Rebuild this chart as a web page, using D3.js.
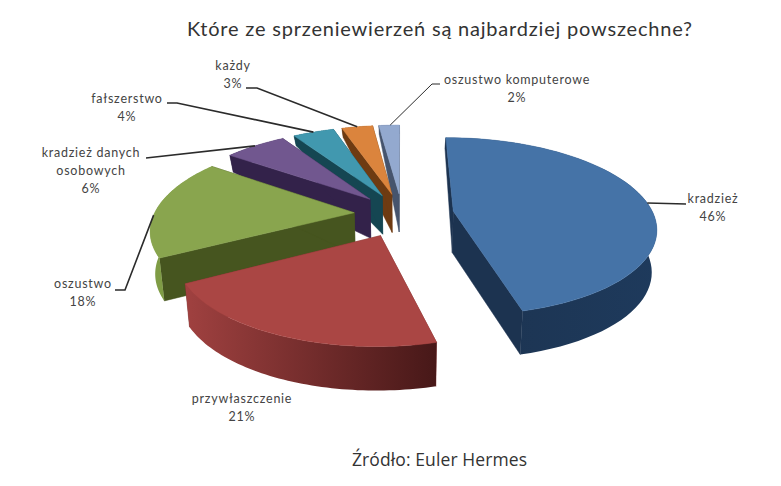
<!DOCTYPE html>
<html><head><meta charset="utf-8">
<script src="https://cdn.jsdelivr.net/npm/d3@7/dist/d3.min.js"></script>
<style>html,body{margin:0;padding:0;background:#fff}svg{display:block}
text{font-family:Lato,"Open Sans",sans-serif}</style></head><body>
<svg id="c" width="781" height="486"></svg>
<script>
// data
const categories = ["kradzież","przywłaszczenie","oszustwo","kradzież danych osobowych","fałszerstwo","każdy","oszustwo komputerowe"];
const values = [46,21,18,6,4,3,2];
const titleText = "Które ze sprzeniewierzeń są najbardziej powszechne?";
const sourceText = "Źródło: Euler Hermes";

// styles
const topColors  = ["#4573a7","#aa4644","#89a54e","#71578f","#4198af","#db843d","#93a9cf"];
const wallColors = ["#1c3350","#7a2f2e","#46551f","#33224a","#154652","#6e3b12","#46546d"];
const rimFrom    = ["#1c3350","#a04140","#7f9c45","#33224a","#154652","#6e3b12","#46546d"];
const rimTo      = ["#1e3a5c","#471818","#7f9c45","#33224a","#154652","#6e3b12","#46546d"];
const drawOrder  = [6,5,4,3,2,1,0];

// label layout: text lines, centre x, first baseline, width, leader
const labelLines = [["kradzież","46%"],["przywłaszczenie","21%"],["oszustwo","18%"],["kradzież danych","osobowych","6%"],["fałszerstwo","4%"],["każdy","3%"],["oszustwo komputerowe","2%"]];
const labelX = [713,242,83,91,127,233,517];
const labelY = [203,403,288,157,103,70,84];
const leaderStart = [[686,204],null,[115,290],[146,158],[167,103],[246,88],[440,84]];
const leaderElbow = [null,null,[125,290],null,[177,103],[257,88],[432,84]];
const leaderT = [0.51,null,0.42,0.5,0.5,0.5,0.55]; // fraction along the slice rim

// projection
const explode = [0.26,0.26,0.24,0.24,0.24,0.24,0.24];
const radius  = [1,0.97,1,1,1,1,1];
const persp = 0.171, cx = 402, converge = 0.02;
const sx = d3.scaleLinear().domain([-1,1]).range([cx-200,cx+200]);
const sy = d3.scaleLinear().domain([-1,1]).range([301,127]);
const depth = d3.scaleLinear().domain([-1.2,0,0.24,0.76,1.1]).range([44,42,38,17,9]).clamp(true);
const project = (X,Z,down) => { const s = 1/(1+persp*Z);
  const x = sx(X*s), y = sy(Z*s);
  return down ? [x+(cx-x)*converge, y+depth(Z)] : [x,y]; };

const svg = d3.select("#c");
const defs = svg.append("defs");
const pie = d3.pie().sort(null)(values);

const line = d3.line();
pie.forEach((d,i) => { d.mid = (d.startAngle+d.endAngle)/2; d.r = radius[i];
  d.ox = explode[i]*Math.sin(d.mid); d.oz = explode[i]*Math.cos(d.mid); });
const rimPoint = (d,t,down) => { const a = d.startAngle + t*(d.endAngle-d.startAngle);
  return project(d.ox+d.r*Math.sin(a), d.oz+d.r*Math.cos(a), down); };
const rimPts = (d,down) => d3.range(0,1.0001,1/60).map(t => rimPoint(d,t,down));
const apex = (d,down) => project(d.ox,d.oz,down);

drawOrder.forEach(i => {
  const d = pie[i], g = svg.append("g");
  const top = rimPts(d,false), bot = rimPts(d,true);
  const xs = top.map(p=>p[0]);
  const grad = defs.append("linearGradient").attr("id","rim"+i)
    .attr("gradientUnits","userSpaceOnUse")
    .attr("x1",d3.min(xs)).attr("x2",d3.max(xs)).attr("y1",0).attr("y2",0);
  grad.append("stop").attr("offset",0).attr("stop-color",rimFrom[i]);
  grad.append("stop").attr("offset",1).attr("stop-color",rimTo[i]);
  [[top[0],bot[0]],[top[top.length-1],bot[bot.length-1]]].forEach(e => {
    g.append("path").attr("d",line([apex(d,false),e[0],e[1],apex(d,true)])+"Z")
      .attr("fill",wallColors[i]).attr("stroke",wallColors[i]).attr("stroke-width",0.5);
  });
  g.append("path").attr("d",line(top.concat(bot.slice().reverse()))+"Z")
    .attr("fill",`url(#rim${i})`);
  g.append("path").attr("d",line([apex(d,false)].concat(top))+"Z")
    .attr("fill",topColors[i]).attr("stroke",topColors[i]).attr("stroke-width",0.5);
});

// leaders
pie.forEach((d,i) => {
  if(!leaderStart[i]) return;
  const pts = [leaderStart[i]];
  if(leaderElbow[i]) pts.push(leaderElbow[i]);
  pts.push(rimPoint(d,leaderT[i],false));
  svg.append("path").attr("d",line(pts)).attr("fill","none")
    .attr("stroke","#2b2b2b").attr("stroke-width",i===6?1:1.6);
});

// labels
labelLines.forEach((ls,i) => {
  const t = svg.append("text").attr("text-anchor","middle").attr("fill","#444")
    .style("font-size","12.5px").style("letter-spacing","0.75px");
  ls.forEach((s,j) => t.append("tspan").attr("x",labelX[i]).attr("y",labelY[i]+j*18).text(s));
});

svg.append("text").attr("x",187).attr("y",36).attr("fill","#333")
  .attr("textLength",505).attr("lengthAdjust","spacing").style("font-size","20px").text(titleText);
svg.append("text").attr("x",352).attr("y",466).attr("fill","#333")
  .attr("textLength",175).attr("lengthAdjust","spacing").style("font-family","'Open Sans'").style("font-size","17.5px").text(sourceText);
</script></body></html>
